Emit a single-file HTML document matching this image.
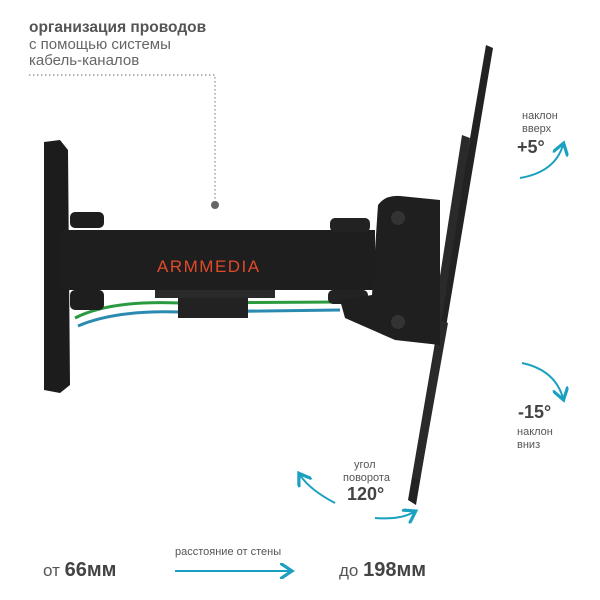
<!DOCTYPE html>
<html><head><meta charset="utf-8"><style>
body{margin:0;background:#fff}
svg{display:block}
text{font-family:"Liberation Sans",sans-serif}
</style></head><body>
<svg width="600" height="600" viewBox="0 0 600 600" xmlns="http://www.w3.org/2000/svg">
<defs>
<marker id="ah" markerWidth="8" markerHeight="8" refX="5" refY="4" orient="auto"><path d="M0,0 L6,4 L0,8" fill="none" stroke="#1aa0c0" stroke-width="1.6"/></marker>
</defs>
<text x="29" y="32" font-size="15.5" font-weight="bold" fill="#555">организация проводов</text>
<text x="29" y="49" font-size="15" fill="#666">с помощью системы</text>
<text x="29" y="65" font-size="15" fill="#666">кабель-каналов</text>
<path d="M29,75 H215 V200" fill="none" stroke="#888" stroke-width="1.2" stroke-dasharray="1.5,2.5"/>
<circle cx="215" cy="205" r="4" fill="#666"/>
<!-- TV plate -->
<polygon points="486,45 493,48 416,505 408,500" fill="#222"/>
<polygon points="462,135 470,138 440,330 432,327" fill="#2a2a2a"/>
<polygon points="440,320 448,323 420,480 412,478" fill="#2a2a2a"/>
<!-- wall plate -->
<path d="M44,142 L60,140 L68,150 L70,385 L60,393 L44,390 Z" fill="#1c1c1c"/>
<!-- cables -->
<path d="M75,318 Q110,300 180,303 L340,302" fill="none" stroke="#2a9a40" stroke-width="3"/>
<path d="M78,326 Q115,310 180,312 L340,310" fill="none" stroke="#2a8ab0" stroke-width="3"/>
<!-- arm -->
<rect x="70" y="212" width="34" height="16" rx="5" fill="#1e1e1e"/>
<rect x="60" y="230" width="315" height="60" fill="#1e1e1e"/>
<rect x="70" y="290" width="34" height="20" rx="5" fill="#1e1e1e"/>
<rect x="155" y="290" width="120" height="8" fill="#2a2a2a"/>
<rect x="178" y="298" width="70" height="20" fill="#222"/>
<rect x="330" y="218" width="40" height="14" rx="5" fill="#222"/>
<rect x="328" y="290" width="40" height="14" rx="5" fill="#222"/>
<text x="157" y="272" font-size="17" fill="#e04a2a" letter-spacing="1.5">ARMMEDIA</text>
<!-- bracket -->
<path d="M378,205 Q385,195 400,196 L440,200 L440,345 L395,340 L345,318 L340,300 L372,295 Z" fill="#1f1f1f"/>
<circle cx="398" cy="218" r="7" fill="#333"/>
<circle cx="398" cy="322" r="7" fill="#333"/>
<!-- arrows -->
<path d="M520,178 Q555,172 563,145" fill="none" stroke="#1aa0c0" stroke-width="2" marker-end="url(#ah)"/>
<path d="M522,363 Q555,370 563,398" fill="none" stroke="#1aa0c0" stroke-width="2" marker-end="url(#ah)"/>
<path d="M335,503 Q310,490 300,475" fill="none" stroke="#1aa0c0" stroke-width="2" marker-end="url(#ah)"/>
<path d="M375,518 Q400,520 414,512" fill="none" stroke="#1aa0c0" stroke-width="2" marker-end="url(#ah)"/>
<path d="M175,571 H290" fill="none" stroke="#1aa0c0" stroke-width="2" marker-end="url(#ah)"/>
<text x="522" y="119" font-size="11" fill="#555">наклон</text>
<text x="522" y="132" font-size="11" fill="#555">вверх</text>
<text x="517" y="153" font-size="18" font-weight="bold" fill="#444">+5°</text>
<text x="518" y="418" font-size="18" font-weight="bold" fill="#444">-15°</text>
<text x="517" y="435" font-size="11" fill="#555">наклон</text>
<text x="517" y="448" font-size="11" fill="#555">вниз</text>
<text x="354" y="468" font-size="11" fill="#555">угол</text>
<text x="343" y="481" font-size="11" fill="#555">поворота</text>
<text x="347" y="500" font-size="18" font-weight="bold" fill="#444">120°</text>
<text x="175" y="555" font-size="11" fill="#555">расстояние от стены</text>
<text x="43" y="576" font-size="17" fill="#555">от <tspan font-weight="bold" font-size="20" fill="#444">66мм</tspan></text>
<text x="339" y="576" font-size="17" fill="#555">до <tspan font-weight="bold" font-size="20" fill="#444">198мм</tspan></text>
</svg>
</body></html>
